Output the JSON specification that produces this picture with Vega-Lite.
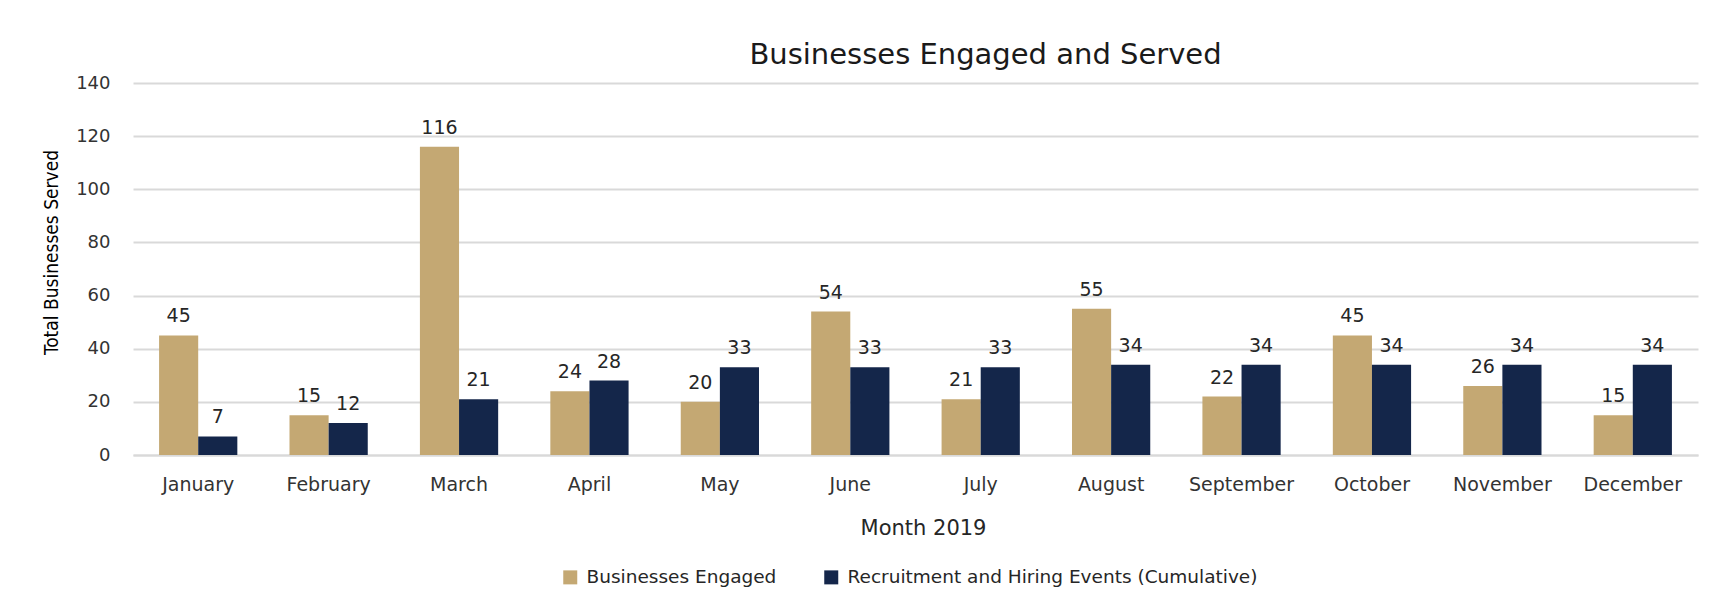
{
  "$schema": "https://vega.github.io/schema/vega-lite/v6.json",
  "width": 1565,
  "height": 372,
  "autosize": {"type": "none"},
  "padding": {"left": 133, "top": 83, "right": 34, "bottom": 145},
  "background": "white",
  "config": {
    "view": {"stroke": null},
    "font": "DejaVu Sans"
  },
  "title": {
    "text": "Businesses Engaged and Served",
    "font": "DejaVu Sans",
    "fontSize": 29,
    "fontWeight": "normal",
    "color": "#1a1a1a",
    "anchor": "middle",
    "baseline": "alphabetic",
    "offset": 20,
    "dx": 70,
    "dy": 39
  },
  "data": {
    "values": [
      {"month": "January", "series": "Businesses Engaged", "value": 45},
      {"month": "January", "series": "Recruitment and Hiring Events (Cumulative)", "value": 7},
      {"month": "February", "series": "Businesses Engaged", "value": 15},
      {"month": "February", "series": "Recruitment and Hiring Events (Cumulative)", "value": 12},
      {"month": "March", "series": "Businesses Engaged", "value": 116},
      {"month": "March", "series": "Recruitment and Hiring Events (Cumulative)", "value": 21},
      {"month": "April", "series": "Businesses Engaged", "value": 24},
      {"month": "April", "series": "Recruitment and Hiring Events (Cumulative)", "value": 28},
      {"month": "May", "series": "Businesses Engaged", "value": 20},
      {"month": "May", "series": "Recruitment and Hiring Events (Cumulative)", "value": 33},
      {"month": "June", "series": "Businesses Engaged", "value": 54},
      {"month": "June", "series": "Recruitment and Hiring Events (Cumulative)", "value": 33},
      {"month": "July", "series": "Businesses Engaged", "value": 21},
      {"month": "July", "series": "Recruitment and Hiring Events (Cumulative)", "value": 33},
      {"month": "August", "series": "Businesses Engaged", "value": 55},
      {"month": "August", "series": "Recruitment and Hiring Events (Cumulative)", "value": 34},
      {"month": "September", "series": "Businesses Engaged", "value": 22},
      {"month": "September", "series": "Recruitment and Hiring Events (Cumulative)", "value": 34},
      {"month": "October", "series": "Businesses Engaged", "value": 45},
      {"month": "October", "series": "Recruitment and Hiring Events (Cumulative)", "value": 34},
      {"month": "November", "series": "Businesses Engaged", "value": 26},
      {"month": "November", "series": "Recruitment and Hiring Events (Cumulative)", "value": 34},
      {"month": "December", "series": "Businesses Engaged", "value": 15},
      {"month": "December", "series": "Recruitment and Hiring Events (Cumulative)", "value": 34}
    ]
  },
  "encoding": {
    "x": {
      "field": "month",
      "type": "nominal",
      "sort": null,
      "scale": {"paddingInner": 0.4, "paddingOuter": 0.2},
      "axis": {
        "title": "Month 2019",
        "titleFont": "DejaVu Sans",
        "titleFontSize": 21,
        "titleFontWeight": "normal",
        "titleColor": "#262626",
        "titleBaseline": "alphabetic",
        "titleY": 79,
        "titleX": 790,
        "labelAngle": 0,
        "labelFontSize": 19,
        "labelColor": "#333333",
        "labelPadding": 20,
        "ticks": false,
        "domainColor": "#d9d9d9",
        "domainWidth": 2,
        "grid": false
      }
    },
    "xOffset": {"field": "series", "type": "nominal"},
    "y": {
      "field": "value",
      "type": "quantitative",
      "scale": {"domain": [0, 140], "nice": false},
      "axis": {
        "title": "Total Businesses Served",
        "titleFont": "DejaVu Sans Condensed",
        "titleFontSize": 19,
        "titleFontWeight": "normal",
        "titleColor": "#000000",
        "titleAngle": -90,
        "titleBaseline": "middle",
        "titleAlign": "center",
        "titleX": -82,
        "titleY": 169,
        "values": [0, 20, 40, 60, 80, 100, 120, 140],
        "labelFontSize": 18,
        "labelColor": "#333333",
        "labelPadding": 23,
        "ticks": false,
        "domain": false,
        "gridColor": "#d9d9d9",
        "gridWidth": 2
      }
    }
  },
  "layer": [
    {
      "mark": {"type": "bar"},
      "encoding": {
        "color": {
          "field": "series",
          "type": "nominal",
          "scale": {
            "domain": ["Businesses Engaged", "Recruitment and Hiring Events (Cumulative)"],
            "range": ["#c4a873", "#14264a"]
          },
          "legend": {
            "title": null,
            "orient": "none",
            "direction": "horizontal",
            "legendX": 428,
            "legendY": 485,
            "symbolType": "square",
            "symbolSize": 196,
            "symbolStrokeWidth": 0,
            "labelFontSize": 18.5,
            "labelColor": "#262626",
            "labelOffset": 7,
            "columnPadding": 45,
            "labelLimit": 600
          }
        }
      }
    },
    {
      "mark": {"type": "text", "baseline": "alphabetic", "dy": -13, "fontSize": 19, "color": "#262626"},
      "encoding": {
        "text": {"field": "value", "type": "quantitative"}
      }
    }
  ]
}
